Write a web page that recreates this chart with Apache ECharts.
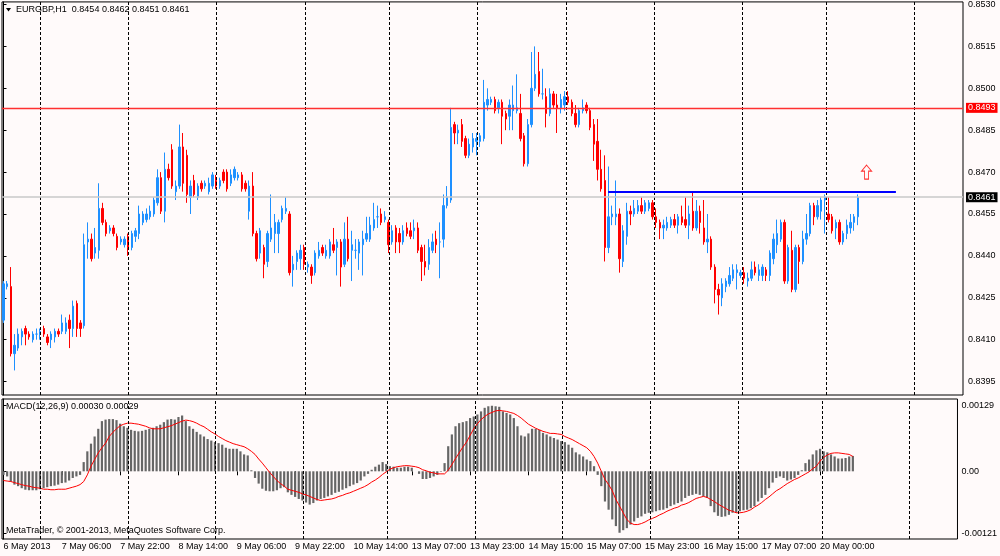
<!DOCTYPE html>
<html><head><meta charset="utf-8">
<script src="https://cdn.jsdelivr.net/npm/echarts@6/dist/echarts.min.js"></script>
<style>html,body{margin:0;padding:0;background:#FFFAFA;}#c{width:1000px;height:556px;}</style>
</head><body><div id="c"></div>
<script>
const symbolName = 'EURGBP,H1';
const timeLabels = ["6 May 2013","7 May 06:00","7 May 22:00","8 May 14:00","9 May 06:00","9 May 22:00","10 May 14:00","13 May 07:00","13 May 23:00","14 May 15:00","15 May 07:00","15 May 23:00","16 May 15:00","17 May 07:00","20 May 00:00"];
const barsPerLabel = 16;

const opens = [0.8417,0.8429,0.8429,0.8405,0.8407,0.8411,0.8414,0.8412,0.8410,0.8412,
0.8412,0.8414,0.8411,0.8410,0.8411,0.8413,0.8413,0.8413,0.8417,0.8414,
0.8423,0.8416,0.8415,0.8445,0.8446,0.8441,0.8442,0.8457,0.8452,0.8449,
0.8450,0.8447,0.8445,0.8444,0.8447,0.8443,0.8447,0.8448,0.8452,0.8453,
0.8454,0.8455,0.8459,0.8468,0.8456,0.8471,0.8478,0.8463,0.8465,0.8479,
0.8476,0.8461,0.8467,0.8461,0.8466,0.8465,0.8463,0.8465,0.8467,0.8465,
0.8470,0.8470,0.8466,0.8468,0.8468,0.8469,0.8466,0.8456,0.8465,0.8448,
0.8441,0.8443,0.8438,0.8446,0.8448,0.8448,0.8453,0.8456,0.8455,0.8435,
0.8438,0.8439,0.8443,0.8436,0.8436,0.8434,0.8440,0.8443,0.8440,0.8440,
0.8444,0.8443,0.8445,0.8437,0.8446,0.8442,0.8442,0.8441,0.8444,0.8446,
0.8446,0.8450,0.8454,0.8455,0.8453,0.8452,0.8445,0.8450,0.8448,0.8445,
0.8450,0.8449,0.8449,0.8450,0.8443,0.8438,0.8437,0.8442,0.8446,0.8445,
0.8446,0.8458,0.8460,0.8487,0.8484,0.8487,0.8482,0.8476,0.8479,0.8481,
0.8481,0.8482,0.8494,0.8495,0.8496,0.8493,0.8495,0.8491,0.8490,0.8492,
0.8492,0.8491,0.8483,0.8473,0.8487,0.8500,0.8506,0.8498,0.8497,0.8491,
0.8498,0.8494,0.8493,0.8494,0.8497,0.8495,0.8491,0.8487,0.8492,0.8494,
0.8492,0.8487,0.8481,0.8471,0.8467,0.8443,0.8454,0.8454,0.8455,0.8438,
0.8447,0.8456,0.8455,0.8456,0.8458,0.8456,0.8457,0.8459,0.8454,0.8452,
0.8450,0.8450,0.8451,0.8453,0.8451,0.8454,0.8453,0.8451,0.8456,0.8450,
0.8456,0.8450,0.8445,0.8446,0.8436,0.8428,0.8425,0.8429,0.8430,0.8432,
0.8434,0.8433,0.8434,0.8431,0.8432,0.8436,0.8433,0.8433,0.8435,0.8433,
0.8439,0.8444,0.8446,0.8452,0.8431,0.8442,0.8428,0.8443,0.8438,0.8446,
0.8448,0.8458,0.8454,0.8456,0.8460,0.8455,0.8454,0.8450,0.8452,0.8445,
0.8448,0.8450,0.8452,0.8454];

const highs = [0.8431,0.8431,0.8436,0.8412,0.8414,0.8414,0.8415,0.8413,0.8413,0.8414,
0.8414,0.8415,0.8412,0.8413,0.8414,0.8414,0.8419,0.8418,0.8419,0.8424,
0.8424,0.8417,0.8448,0.8452,0.8448,0.8450,0.8466,0.8459,0.8453,0.8451,
0.8451,0.8448,0.8447,0.8447,0.8448,0.8449,0.8450,0.8458,0.8456,0.8457,
0.8458,0.8461,0.8471,0.8470,0.8477,0.8473,0.8480,0.8467,0.8487,0.8484,
0.8478,0.8467,0.8469,0.8466,0.8467,0.8467,0.8468,0.8470,0.8469,0.8468,
0.8471,0.8471,0.8471,0.8472,0.8470,0.8470,0.8467,0.8467,0.8470,0.8449,
0.8450,0.8444,0.8449,0.8462,0.8455,0.8453,0.8458,0.8461,0.8456,0.8440,
0.8442,0.8444,0.8444,0.8438,0.8437,0.8442,0.8445,0.8444,0.8444,0.8446,
0.8450,0.8446,0.8446,0.8452,0.8454,0.8449,0.8446,0.8446,0.8449,0.8454,
0.8454,0.8459,0.8458,0.8457,0.8456,0.8453,0.8451,0.8451,0.8450,0.8451,
0.8452,0.8452,0.8453,0.8452,0.8444,0.8444,0.8446,0.8448,0.8449,0.8452,
0.8462,0.8465,0.8493,0.8488,0.8487,0.8489,0.8483,0.8482,0.8484,0.8484,
0.8484,0.8503,0.8500,0.8497,0.8497,0.8496,0.8496,0.8492,0.8496,0.8501,
0.8505,0.8498,0.8484,0.8489,0.8513,0.8515,0.8513,0.8507,0.8500,0.8500,
0.8499,0.8498,0.8498,0.8499,0.8499,0.8496,0.8494,0.8493,0.8496,0.8495,
0.8493,0.8489,0.8489,0.8478,0.8476,0.8472,0.8458,0.8467,0.8457,0.8451,
0.8459,0.8458,0.8460,0.8460,0.8461,0.8460,0.8460,0.8460,0.8457,0.8453,
0.8453,0.8454,0.8454,0.8455,0.8455,0.8458,0.8461,0.8458,0.8463,0.8460,
0.8458,0.8460,0.8455,0.8447,0.8437,0.8430,0.8432,0.8432,0.8436,0.8437,
0.8437,0.8435,0.8436,0.8434,0.8438,0.8438,0.8437,0.8437,0.8436,0.8442,
0.8448,0.8453,0.8453,0.8453,0.8444,0.8449,0.8444,0.8444,0.8449,0.8455,
0.8459,0.8459,0.8460,0.8461,0.8462,0.8461,0.8455,0.8453,0.8453,0.8449,
0.8453,0.8455,0.8455,0.8462];

const lows = [0.8416,0.8428,0.8404,0.8399,0.8406,0.8408,0.8408,0.8410,0.8409,0.8410,
0.8410,0.8411,0.8408,0.8407,0.8409,0.8411,0.8412,0.8412,0.8407,0.8411,
0.8411,0.8411,0.8414,0.8439,0.8438,0.8439,0.8439,0.8451,0.8447,0.8448,
0.8447,0.8442,0.8444,0.8443,0.8440,0.8442,0.8445,0.8446,0.8451,0.8452,
0.8453,0.8454,0.8458,0.8455,0.8452,0.8467,0.8464,0.8460,0.8464,0.8463,
0.8459,0.8455,0.8461,0.8460,0.8463,0.8464,0.8462,0.8464,0.8464,0.8464,
0.8466,0.8463,0.8465,0.8467,0.8467,0.8463,0.8463,0.8453,0.8447,0.8438,
0.8439,0.8432,0.8436,0.8445,0.8441,0.8441,0.8452,0.8455,0.8433,0.8429,
0.8435,0.8435,0.8435,0.8434,0.8430,0.8433,0.8439,0.8440,0.8439,0.8439,
0.8441,0.8433,0.8429,0.8436,0.8438,0.8431,0.8439,0.8435,0.8433,0.8445,
0.8445,0.8449,0.8450,0.8451,0.8452,0.8441,0.8444,0.8441,0.8441,0.8444,
0.8447,0.8446,0.8446,0.8441,0.8431,0.8433,0.8435,0.8441,0.8441,0.8432,
0.8443,0.8457,0.8459,0.8480,0.8480,0.8479,0.8475,0.8475,0.8477,0.8476,
0.8479,0.8481,0.8492,0.8494,0.8491,0.8491,0.8480,0.8485,0.8485,0.8485,
0.8491,0.8481,0.8472,0.8472,0.8486,0.8499,0.8497,0.8496,0.8486,0.8490,
0.8493,0.8484,0.8491,0.8492,0.8494,0.8490,0.8486,0.8486,0.8491,0.8491,
0.8485,0.8474,0.8467,0.8463,0.8438,0.8441,0.8451,0.8451,0.8434,0.8436,
0.8444,0.8451,0.8454,0.8455,0.8455,0.8455,0.8456,0.8453,0.8450,0.8446,
0.8446,0.8449,0.8450,0.8450,0.8448,0.8451,0.8450,0.8446,0.8449,0.8449,
0.8448,0.8444,0.8441,0.8435,0.8423,0.8419,0.8422,0.8427,0.8429,0.8431,
0.8428,0.8432,0.8430,0.8429,0.8431,0.8433,0.8431,0.8431,0.8431,0.8431,
0.8437,0.8441,0.8445,0.8430,0.8430,0.8427,0.8427,0.8430,0.8437,0.8444,
0.8447,0.8451,0.8453,0.8453,0.8448,0.8452,0.8448,0.8446,0.8444,0.8444,
0.8446,0.8448,0.8449,0.8451];

const closes = [0.8430,0.8430,0.8405,0.8408,0.8412,0.8413,0.8412,0.8411,0.8412,0.8412,
0.8413,0.8412,0.8409,0.8412,0.8413,0.8412,0.8416,0.8416,0.8414,0.8422,
0.8414,0.8414,0.8444,0.8446,0.8439,0.8443,0.8457,0.8452,0.8448,0.8450,
0.8448,0.8443,0.8446,0.8446,0.8443,0.8448,0.8449,0.8455,0.8455,0.8455,
0.8456,0.8460,0.8468,0.8456,0.8471,0.8468,0.8465,0.8465,0.8479,0.8466,
0.8462,0.8465,0.8462,0.8465,0.8464,0.8466,0.8466,0.8469,0.8465,0.8467,
0.8467,0.8464,0.8469,0.8471,0.8469,0.8464,0.8464,0.8465,0.8448,0.8439,
0.8449,0.8437,0.8448,0.8450,0.8452,0.8452,0.8457,0.8457,0.8434,0.8437,
0.8441,0.8442,0.8437,0.8437,0.8433,0.8441,0.8442,0.8441,0.8442,0.8445,
0.8442,0.8445,0.8436,0.8446,0.8439,0.8444,0.8442,0.8445,0.8446,0.8448,
0.8451,0.8453,0.8454,0.8452,0.8454,0.8444,0.8449,0.8445,0.8445,0.8449,
0.8448,0.8447,0.8450,0.8442,0.8438,0.8436,0.8443,0.8445,0.8444,0.8445,
0.8458,0.8461,0.8486,0.8484,0.8485,0.8481,0.8476,0.8480,0.8482,0.8482,
0.8483,0.8495,0.8496,0.8496,0.8492,0.8495,0.8490,0.8489,0.8494,0.8494,
0.8493,0.8482,0.8473,0.8487,0.8500,0.8505,0.8498,0.8498,0.8491,0.8498,
0.8494,0.8493,0.8496,0.8497,0.8495,0.8491,0.8487,0.8492,0.8493,0.8492,
0.8486,0.8480,0.8471,0.8464,0.8443,0.8454,0.8455,0.8455,0.8439,0.8449,
0.8456,0.8455,0.8457,0.8458,0.8456,0.8459,0.8459,0.8454,0.8452,0.8450,
0.8451,0.8452,0.8453,0.8451,0.8454,0.8452,0.8451,0.8455,0.8450,0.8456,
0.8452,0.8445,0.8446,0.8436,0.8428,0.8426,0.8430,0.8431,0.8433,0.8435,
0.8435,0.8434,0.8432,0.8432,0.8435,0.8434,0.8435,0.8436,0.8433,0.8441,
0.8446,0.8448,0.8452,0.8431,0.8443,0.8428,0.8443,0.8438,0.8446,0.8448,
0.8458,0.8454,0.8458,0.8460,0.8461,0.8453,0.8449,0.8452,0.8445,0.8448,
0.8451,0.8452,0.8454,0.8461];

const macdMain = [-0.00007,-0.00010,-0.00020,-0.00026,-0.00029,-0.00033,-0.00036,-0.00037,-0.00037,-0.00037,
-0.00035,-0.00033,-0.00031,-0.00029,-0.00028,-0.00026,-0.00023,-0.00022,-0.00018,-0.00013,
-0.00010,-0.00007,0.00018,0.00039,0.00054,0.00068,0.00083,0.00098,0.00101,0.00102,
0.00102,0.00100,0.00093,0.00088,0.00085,0.00081,0.00079,0.00078,0.00079,0.00081,
0.00083,0.00085,0.00088,0.00091,0.00096,0.00101,0.00102,0.00101,0.00106,0.00109,
0.00098,0.00088,0.00083,0.00077,0.00072,0.00068,0.00063,0.00060,0.00057,0.00055,
0.00052,0.00046,0.00044,0.00044,0.00044,0.00039,0.00033,0.00031,0.00002,-0.00013,
-0.00024,-0.00034,-0.00038,-0.00039,-0.00039,-0.00037,-0.00033,-0.00031,-0.00041,-0.00046,
-0.00050,-0.00054,-0.00057,-0.00061,-0.00065,-0.00062,-0.00057,-0.00054,-0.00052,-0.00049,
-0.00046,-0.00042,-0.00040,-0.00036,-0.00033,-0.00029,-0.00026,-0.00023,-0.00018,-0.00010,
-0.00005,0.00003,0.00009,0.00013,0.00018,0.00014,0.00010,0.00009,0.00007,0.00007,
0.00009,0.00009,0.00007,0.00000,-0.00005,-0.00015,-0.00015,-0.00013,-0.00010,-0.00007,
-0.00001,0.00016,0.00049,0.00072,0.00088,0.00094,0.00096,0.00098,0.00104,0.00107,
0.00111,0.00117,0.00124,0.00127,0.00128,0.00127,0.00126,0.00117,0.00114,0.00111,
0.00104,0.00088,0.00070,0.00068,0.00074,0.00083,0.00083,0.00081,0.00075,0.00072,
0.00068,0.00065,0.00062,0.00059,0.00057,0.00052,0.00046,0.00037,0.00033,0.00029,
0.00023,0.00020,0.00010,-0.00007,-0.00029,-0.00059,-0.00075,-0.00094,-0.00107,-0.00120,
-0.00115,-0.00111,-0.00104,-0.00098,-0.00091,-0.00088,-0.00083,-0.00081,-0.00080,-0.00078,
-0.00076,-0.00075,-0.00072,-0.00068,-0.00065,-0.00062,-0.00059,-0.00052,-0.00048,-0.00046,
-0.00044,-0.00046,-0.00049,-0.00052,-0.00068,-0.00080,-0.00087,-0.00089,-0.00088,-0.00085,
-0.00081,-0.00081,-0.00078,-0.00076,-0.00075,-0.00072,-0.00068,-0.00059,-0.00052,-0.00046,
-0.00033,-0.00022,-0.00013,-0.00010,-0.00013,-0.00018,-0.00016,-0.00013,-0.00007,0.00002,
0.00016,0.00023,0.00033,0.00041,0.00044,0.00039,0.00037,0.00033,0.00029,0.00025,
0.00025,0.00026,0.00029,0.00030];

const macdSignal = [-0.00018,-0.00019,-0.00020,-0.00022,-0.00024,-0.00026,-0.00028,-0.00029,-0.00031,-0.00032,
-0.00033,-0.00035,-0.00035,-0.00036,-0.00036,-0.00035,-0.00035,-0.00035,-0.00033,-0.00031,
-0.00029,-0.00026,-0.00020,-0.00007,0.00010,0.00023,0.00036,0.00046,0.00055,0.00068,
0.00076,0.00083,0.00089,0.00092,0.00094,0.00094,0.00093,0.00092,0.00090,0.00088,
0.00085,0.00083,0.00083,0.00083,0.00085,0.00087,0.00089,0.00092,0.00095,0.00098,
0.00100,0.00099,0.00097,0.00094,0.00090,0.00087,0.00082,0.00077,0.00073,0.00068,
0.00064,0.00060,0.00057,0.00054,0.00052,0.00050,0.00048,0.00044,0.00039,0.00033,
0.00024,0.00016,0.00007,-0.00002,-0.00010,-0.00018,-0.00024,-0.00029,-0.00035,-0.00037,
-0.00039,-0.00041,-0.00044,-0.00046,-0.00049,-0.00052,-0.00055,-0.00057,-0.00056,-0.00055,
-0.00054,-0.00052,-0.00049,-0.00047,-0.00044,-0.00042,-0.00039,-0.00036,-0.00033,-0.00030,
-0.00026,-0.00021,-0.00017,-0.00012,-0.00006,-0.00001,0.00004,0.00007,0.00009,0.00010,
0.00011,0.00011,0.00010,0.00009,0.00007,0.00003,0.00001,-0.00002,-0.00003,-0.00005,
-0.00005,-0.00005,0.00002,0.00013,0.00025,0.00036,0.00047,0.00057,0.00070,0.00083,
0.00093,0.00101,0.00107,0.00112,0.00115,0.00118,0.00119,0.00118,0.00117,0.00115,
0.00113,0.00109,0.00104,0.00098,0.00092,0.00088,0.00084,0.00081,0.00078,0.00076,
0.00074,0.00074,0.00073,0.00072,0.00068,0.00065,0.00062,0.00058,0.00054,0.00050,
0.00046,0.00039,0.00029,0.00016,0.00000,-0.00016,-0.00026,-0.00038,-0.00055,-0.00068,
-0.00081,-0.00094,-0.00101,-0.00104,-0.00104,-0.00102,-0.00099,-0.00095,-0.00092,-0.00089,
-0.00085,-0.00082,-0.00078,-0.00075,-0.00072,-0.00070,-0.00066,-0.00064,-0.00061,-0.00057,
-0.00053,-0.00051,-0.00049,-0.00051,-0.00055,-0.00059,-0.00064,-0.00068,-0.00072,-0.00076,
-0.00078,-0.00081,-0.00081,-0.00080,-0.00078,-0.00075,-0.00070,-0.00066,-0.00061,-0.00055,
-0.00050,-0.00044,-0.00038,-0.00034,-0.00029,-0.00024,-0.00020,-0.00016,-0.00013,-0.00009,
-0.00005,-0.00001,0.00005,0.00010,0.00020,0.00027,0.00032,0.00035,0.00036,0.00036,
0.00035,0.00034,0.00033,0.00029];

const priceTicks = [0.8530,0.8515,0.8500,0.8485,0.8470,0.8455,0.8440,0.8425,0.8410,0.8395];
const macdTicks = [0.00129, 0, -0.00121];
const resistanceLevel = 0.8493;
const bidLevel = 0.8461;
const trendLevel = 0.8463;
const trendBars = [164.9, 243.4];
const arrowPoint = [235.4, 0.8470];
const gridBars = [10.1, 34.1, 58.1, 82.2, 105.2, 129.3, 153.4, 177.4, 201.5, 224.5, 248.5];

const FONT = 'Liberation Sans';
const XMIN = -0.41, XMAX = 261.7;
const tickIdx = timeLabels.map((_, k) => k * barsPerLabel);
const n = opens.length;
const candleData = opens.map((o, i) => [i, o, closes[i], lows[i], highs[i]]);
const histData = macdMain.map((v, i) => [i, v]);
const sigData = macdSignal.map((v, i) => [i, v]);
const f4 = v => v.toFixed(4);
const f5 = v => v.toFixed(5);

const vLines = gridBars.map(b => ({xAxis: b}));
const dashStyle = {color: '#000', width: 1, type: [3, 2]};

const chart = echarts.init(document.getElementById('c'), null, {renderer: 'canvas'});
chart.setOption({
  backgroundColor: '#FFFAFA',
  animation: false,
  textStyle: {fontFamily: FONT},
  grid: [
    {left: 2, top: 0, width: 961, height: 395, show: true, borderColor: '#000', borderWidth: 1, backgroundColor: 'rgba(0,0,0,0)'},
    {left: 2, top: 399, width: 961, height: 140, show: true, borderColor: '#000', borderWidth: 1, backgroundColor: 'rgba(0,0,0,0)'}
  ],
  xAxis: [
    {type: 'value', gridIndex: 0, min: XMIN, max: XMAX, show: false},
    {type: 'value', gridIndex: 1, min: XMIN, max: XMAX, position: 'bottom',
     axisLine: {show: false}, splitLine: {show: false},
     axisTick: {show: true, customValues: tickIdx, length: 4, lineStyle: {color: '#000'}},
     axisLabel: {customValues: tickIdx, formatter: v => timeLabels[Math.round(v / barsPerLabel)] || '',
                 fontSize: 9, fontFamily: FONT, color: '#000', align: 'left', margin: 3}}
  ],
  yAxis: [
    {type: 'value', gridIndex: 0, position: 'right', min: 0.83902, max: 0.853092,
     axisLine: {show: true, lineStyle: {color: '#000'}},
     axisTick: {show: true, customValues: priceTicks, length: 3, lineStyle: {color: '#000'}},
     axisLabel: {customValues: priceTicks, formatter: f4, fontSize: 9, fontFamily: FONT, color: '#000', margin: 5},
     splitLine: {show: false}},
    {type: 'value', gridIndex: 1, position: 'right', min: -0.001322, max: 0.001412,
     axisLine: {show: true, lineStyle: {color: '#000'}},
     axisTick: {show: true, customValues: macdTicks, length: 3, lineStyle: {color: '#000'}},
     axisLabel: {customValues: macdTicks, formatter: v => (v === 0 ? '0.00' : f5(v)), fontSize: 9, fontFamily: FONT, color: '#000', margin: 4},
     splitLine: {show: false}}
  ],
  series: [
    {type: 'candlestick', xAxisIndex: 0, yAxisIndex: 0, data: candleData, barWidth: 2,
     itemStyle: {color: '#1E90FF', color0: '#FF0000', borderColor: '#1E90FF', borderColor0: '#FF0000', borderColorDoji: '#1E90FF', borderWidth: 1},
     markLine: {
       silent: true, symbol: ['none', 'none'], animation: false, precision: 6,
       label: {show: false},
       data: [
         ...vLines.map(d => Object.assign({lineStyle: dashStyle}, d)),
         {yAxis: bidLevel, lineStyle: {color: '#C8C8C8', width: 1.5, type: 'solid'},
          label: {show: true, position: 'end', formatter: f4(bidLevel), backgroundColor: '#000', color: '#fff',
                  padding: [1, 2, 0, 2], fontSize: 9, fontFamily: FONT, distance: 3}},
         {yAxis: resistanceLevel, lineStyle: {color: '#FF3030', width: 1.3, type: 'solid'},
          label: {show: true, position: 'end', formatter: f4(resistanceLevel), backgroundColor: '#FF0000', color: '#fff',
                  padding: [1, 2, 0, 2], fontSize: 9, fontFamily: FONT, distance: 3}},
         [{coord: [trendBars[0], trendLevel], lineStyle: {color: '#0000FF', width: 2, type: 'solid'}},
          {coord: [trendBars[1], trendLevel]}]
       ]
     }},
    {type: 'scatter', xAxisIndex: 0, yAxisIndex: 0, data: [arrowPoint], silent: true,
     symbol: 'path://M5,0 L10,6 L7,6 L7,14 L3,14 L3,6 L0,6 Z', symbolSize: [10, 14],
     itemStyle: {color: 'rgba(0,0,0,0)', borderColor: '#FF0000', borderWidth: 1}},
    {type: 'bar', xAxisIndex: 1, yAxisIndex: 1, data: histData, barWidth: 2.2,
     itemStyle: {color: '#666666'},
     markLine: {silent: true, symbol: ['none', 'none'], animation: false, precision: 6, label: {show: false},
                data: vLines.map(d => Object.assign({lineStyle: dashStyle}, d))}},
    {type: 'line', xAxisIndex: 1, yAxisIndex: 1, data: sigData, showSymbol: false, silent: true,
     lineStyle: {color: '#FF0000', width: 1}}
  ],
  graphic: [
    {type: 'polygon', shape: {points: [[6, 8], [11, 8], [8.5, 11.5]]}, style: {fill: '#000'}},
    {type: 'text', x: 16, y: 10, style: {text: symbolName + '  ' + [opens[n-1], highs[n-1], lows[n-1], closes[n-1]].map(f4).join(' '),
      font: '9px "' + FONT + '"', fill: '#000', verticalAlign: 'middle'}},
    {type: 'text', x: 6, y: 407, style: {text: 'MACD(12,26,9) ' + f5(macdMain[n-1]) + ' ' + f5(macdSignal[n-1]),
      font: '9px "' + FONT + '"', fill: '#000', verticalAlign: 'middle'}},
    {type: 'text', x: 6, y: 531, style: {text: 'MetaTrader, \u00A9 2001-2013, MetaQuotes Software Corp.',
      font: '9px "' + FONT + '"', fill: '#000', verticalAlign: 'middle'}}
  ]
});
</script>
</body></html>
